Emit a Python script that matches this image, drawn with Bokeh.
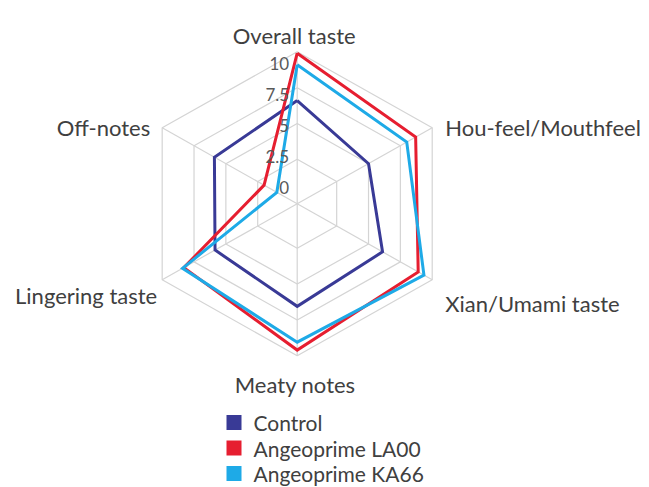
import numpy as np
from bokeh.plotting import figure
from bokeh.models import Range1d
from bokeh.embed import file_html
from bokeh.resources import INLINE
from bokeh.core.properties import value

# ---------------- data ----------------
categories = ["Overall taste", "Hou-feel/Mouthfeel", "Xian/Umami taste",
              "Meaty notes", "Lingering taste", "Off-notes"]
series_names = ["Control", "Angeoprime LA00", "Angeoprime KA66"]
control = [6.6, 5.0, 6.1, 6.55, 5.85, 5.9]
la00 = [9.9, 8.7, 8.9, 9.6, 8.3, 2.0]
ka66 = [9.1, 8.0, 9.35, 9.05, 8.4, 1.0]
ring_values = [2.5, 5.0, 7.5, 10.0]
tick_values = [0, 2.5, 5, 7.5, 10]
tick_labels = ["0", "2.5", "5", "7.5", "10"]

# ---------------- style ----------------
colors = ["#393a96", "#e61e30", "#1eaae7"]
grid_color = "#d4d4d4"
text_color = "#404040"
FONT = "Lato"

W, H = 645, 487
CX, CY = 296.7, 203.3      # chart centre in frame pixels
SX, SY = 155.9, 152.0      # pixels per unit radius
V_MIN, V_MAX = -0.6, 10.0

def rad(v):
    return (np.asarray(v, float) - V_MIN) / (V_MAX - V_MIN)

def page(px, py):
    return (px - CX) / SX, (CY - py) / SY

angles = np.deg2rad([90, 30, -30, -90, -150, 150])
cosA, sinA = np.cos(angles), np.sin(angles)

p = figure(width=W, height=H, output_backend="svg", toolbar_location=None,
           x_range=Range1d(-CX / SX, (W - CX) / SX),
           y_range=Range1d(-(H - CY) / SY, CY / SY),
           min_border=0)
p.axis.visible = False
p.grid.visible = False
p.outline_line_color = None
p.background_fill_color = "white"
p.border_fill_color = "white"

# rings
for v in ring_values:
    r = rad(v)
    xs = list(r * cosA) + [r * cosA[0]]
    ys = list(r * sinA) + [r * sinA[0]]
    p.line(xs, ys, line_color=grid_color, line_width=1.2)
# spokes
p.segment(x0=[0] * 6, y0=[0] * 6, x1=list(cosA), y1=list(sinA),
          line_color=grid_color, line_width=1.2)

# series
for vals, col in zip([control, la00, ka66], colors):
    r = rad(vals)
    xs = list(r * cosA) + [r[0] * cosA[0]]
    ys = list(r * sinA) + [r[0] * sinA[0]]
    p.line(xs, ys, line_color=col, line_width=3, line_join="miter")

# category labels
aligns = ["center", "left", "left", "center", "right", "right"]
xoffs = [-3, 13, 13, -2, -5, -12]
yoffs = [-16, 0, 24, 29, 16, 0]
for i, name in enumerate(categories):
    p.text(x=[cosA[i]], y=[sinA[i]], text=[name], text_align=aligns[i],
           text_baseline="alphabetic", x_offset=xoffs[i], y_offset=yoffs[i],
           text_font=value(FONT), text_font_size="22px", text_color=text_color)

# tick labels (as placed in the reference)
tick_y = [(16.3 + 12.4 * v) / SY for v in tick_values]
p.text(x=[0] * len(tick_values), y=tick_y, text=tick_labels, text_align="right",
       text_baseline="middle", x_offset=-8, text_font=value(FONT),
       text_font_size="17px", text_color="#595959")

# legend
for i, (name, col) in enumerate(zip(series_names, colors)):
    lx, ly = page(233.5, 422 + i * 25.5)
    p.scatter([lx], [ly], marker="square", size=15, fill_color=col,
              line_color=None)
    tx, ty = page(253, 422 + i * 25.5)
    p.text([tx], [ty], text=[name], text_align="left", text_baseline="middle",
           text_font=value(FONT), text_font_size="21px", text_color=text_color)

open("out.html", "w").write(file_html(p, INLINE))
